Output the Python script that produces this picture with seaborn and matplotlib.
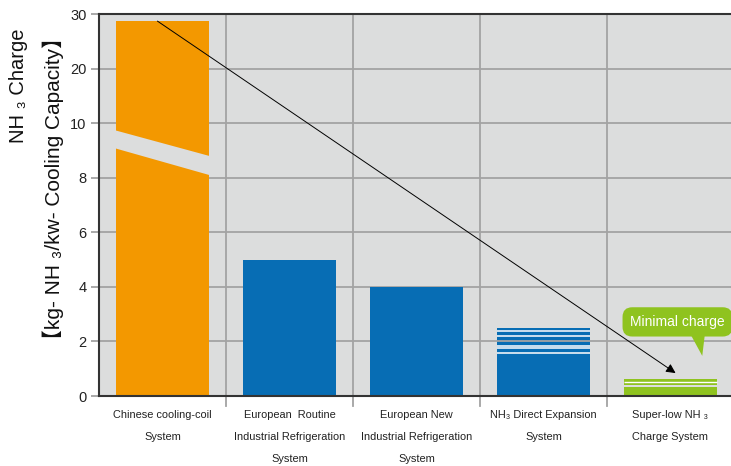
import numpy as np
import pandas as pd
import matplotlib
matplotlib.use("Agg")
import matplotlib.pyplot as plt
from matplotlib import font_manager
from matplotlib.patches import Polygon
import seaborn as sns

# ---------------- data ----------------
categories = ["Chinese cooling-coil\nSystem",
              "European  Routine\nIndustrial Refrigeration\nSystem",
              "European New\nIndustrial Refrigeration\nSystem",
              "NH\u2083 Direct Expansion\nSystem",
              "Super-low NH \u2083\nCharge System"]
values = [28.7, 5.0, 4.0, 2.5, 0.62]
bar_colors = ["#f39800", "#076db4", "#076db4", "#076db4", "#8fc31f"]
yticks = [0, 2, 4, 6, 8, 10, 20, 30]
break_top_edge = [9.74, 8.79]      # lower edge of the upper piece (left, right)
break_bottom_edge = [9.08, 8.09]   # upper edge of the lower piece (left, right)
dx_stripes_white = [2.4, 2.2, 1.85, 1.75, 1.56]
dx_stripes_gray = [2.0]
low_gap = [0.33, 0.39]             # gap in the super-low bar
low_white_line = [0.53]
arrow_start = (-0.04, 28.7)
arrow_end = (4.04, 0.84)

# ---------------- fonts ----------------
names = {f.name for f in font_manager.fontManager.ttflist}
narrow = "Liberation Sans Narrow" if "Liberation Sans Narrow" in names else "Liberation Sans"
fam = ["Liberation Sans", "DejaVu Sans", "Noto Sans CJK SC"]
nfam = [narrow, "DejaVu Sans", "Noto Sans CJK SC"]
xt_size = 9 if narrow == "Liberation Sans Narrow" else 7.9

BG = "#dcdddd"
GRID = "#a3a3a3"
SPINE = "#333333"

def fwd(y):
    y = np.asarray(y, dtype=float)
    return np.where(y <= 10, y, 10 + (y - 10) * 0.2)

def inv(t):
    t = np.asarray(t, dtype=float)
    return np.where(t <= 10, t, 10 + (t - 10) * 5.0)

fig = plt.figure(figsize=(7.31, 4.66), dpi=100)
ax = fig.add_axes([99 / 731, 70 / 466, 635 / 731, 382 / 466])
ax.set_facecolor(BG)
ax.set_yscale("function", functions=(fwd, inv))

df = pd.DataFrame({"cat": categories, "val": values})
sns.barplot(data=df, x="cat", y="val", hue="cat", palette=bar_colors,
            width=0.73, legend=False, ax=ax, saturation=1, zorder=2)

ax.set_ylim(0, 30)
ax.set_xlim(-0.5, 4.5)
ax.set_yticks(yticks)
ax.set_yticklabels([str(t) for t in yticks], fontfamily=fam, fontsize=10.5, color="#222222")
ax.yaxis.set_minor_locator(matplotlib.ticker.NullLocator())
ax.set_axisbelow(True)
ax.yaxis.grid(True, color=GRID, lw=1.3)
ax.xaxis.grid(False)
for xb in [0.5, 1.5, 2.5, 3.5]:
    ax.axvline(xb, ymin=-0.025, ymax=1, color=GRID, lw=1.3, zorder=0.6, clip_on=False)

ax.tick_params(axis="y", color=GRID, length=6, width=1.3, pad=3)
ax.tick_params(axis="x", length=0, pad=10)
ax.set_xticks(range(len(categories)))
ax.set_xticklabels(categories, fontfamily=nfam, fontsize=xt_size, linespacing=2.5, color="#222222")
ax.set_xlabel("")
ax.set_ylabel("")

for s in ["left", "bottom", "top"]:
    ax.spines[s].set_color(SPINE)
    ax.spines[s].set_linewidth(1.5)
ax.spines["right"].set_visible(False)

patches = ax.patches
# break in the first bar
p0 = patches[0]
x0, x1 = p0.get_x(), p0.get_x() + p0.get_width()
ax.add_patch(Polygon([(x0 - 0.01, break_top_edge[0]), (x1 + 0.01, break_top_edge[1]),
                      (x1 + 0.01, break_bottom_edge[1]), (x0 - 0.01, break_bottom_edge[0])],
                     closed=True, facecolor=BG, edgecolor="none", zorder=3))

# stripes on the direct expansion bar
p3 = patches[3]
a, b = p3.get_x(), p3.get_x() + p3.get_width()
ax.hlines(dx_stripes_white, a, b, colors="white", lw=1.1, zorder=3)
ax.hlines(dx_stripes_gray, a, b, colors=GRID, lw=1.3, zorder=3)

# super-low bar details
p4 = patches[4]
a, b = p4.get_x(), p4.get_x() + p4.get_width()
ax.fill_between([a - 0.01, b + 0.01], low_gap[0], low_gap[1], color=BG, zorder=3, lw=0)
ax.hlines(low_white_line, a, b, colors="white", lw=1.0, zorder=3)

# arrow
ax.annotate("", xy=arrow_end, xytext=arrow_start,
            arrowprops=dict(arrowstyle="-|>", color="black", lw=0.7,
                            mutation_scale=14, shrinkA=0, shrinkB=0), zorder=5)

# callout
GREEN = "#8fc31f"
ax.text(0.911, 0.194, "Minimal charge", transform=ax.transAxes, ha="center", va="center",
        fontsize=10, color="white", fontfamily=nfam, zorder=6,
        bbox=dict(boxstyle="round,pad=0.55,rounding_size=0.7", fc=GREEN, ec="none"))
ax.add_patch(Polygon([(0.932, 0.16), (0.954, 0.16), (0.950, 0.105)], closed=True,
                     transform=ax.transAxes, facecolor=GREEN, edgecolor="none",
                     zorder=6, clip_on=False))

# y labels (two rotated lines)
fig.text(19 / 731, 1 - 86 / 466, "NH \u2083 Charge", rotation=90, ha="center", va="center",
         fontsize=14.5, fontfamily=fam, color="#111111")
fig.text(53 / 731, 1 - 189 / 466, "\u3010kg- NH \u2083/kw- Cooling Capacity\u3011", rotation=90,
         ha="center", va="center", fontsize=15, fontfamily=fam, color="#111111")

fig.savefig("out.png", dpi=100)
